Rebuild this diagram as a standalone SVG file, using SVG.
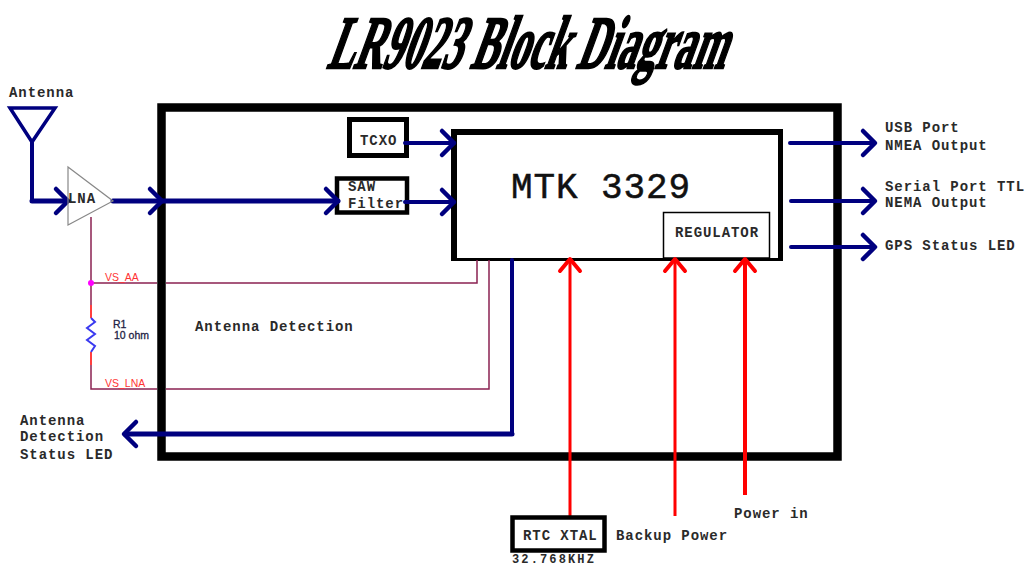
<svg xmlns="http://www.w3.org/2000/svg" width="1025" height="565" viewBox="0 0 1025 565">
<style>
.t{font-family:"Liberation Mono","DejaVu Sans Mono",monospace;font-weight:bold;font-size:14px;letter-spacing:.93px;fill:#2a2a2a}
.box{fill:#fff;stroke:#000}
.n{fill:none;stroke:#00007f;stroke-linecap:round;stroke-linejoin:round}
.r{fill:none;stroke:#f00}
.m{fill:none;stroke:#8b2252;stroke-width:1.5}
.s{font-family:"Liberation Sans",Arial,sans-serif;font-size:10.500px}
</style>
<defs>
<path id="ah" d="M-12,-12 L0,0 L-12,12" fill="none" stroke="#00007f" stroke-width="4.500" stroke-linecap="round" stroke-linejoin="round"/>
<path id="ar" d="M-12,-10 L0,0 L-12,10" fill="none" stroke="#f00" stroke-width="4" stroke-linecap="round" stroke-linejoin="round"/>
</defs>
<text id="title" transform="translate(326,68) skewX(-20) scale(.525,1)" font-family="Liberation Serif,serif" font-weight="bold" font-size="75" stroke="#000" stroke-width="2.400" fill="#000">LR9023 Block Diagram</text>
<g id="outer"><rect class="box" x="161.500" y="107.500" width="676" height="349" stroke-width="8.500"/></g>
<g id="mtk"><rect x="451" y="129" width="332" height="132" fill="#000"/><rect x="457" y="135" width="321" height="123" fill="#fff"/>
<text x="511" y="198" font-family="Liberation Mono,monospace" font-size="36" letter-spacing=".9" fill="#111" stroke="#111" stroke-width=".5">MTK 3329</text></g>
<g id="regulator"><rect class="box" x="663.500" y="212.500" width="106" height="45.500" stroke="#222" stroke-width="1.500"/><text class="t" x="675" y="237">REGULATOR</text></g>
<g id="tcxo"><rect class="box" x="349.500" y="119.500" width="57" height="36" stroke-width="5"/><text class="t" x="360" y="145">TCXO</text></g>
<g id="saw"><rect class="box" x="337" y="178.500" width="70" height="34" stroke-width="4.500"/><text class="t" x="348" y="191">SAW</text><text class="t" x="348" y="208">Filter</text></g>
<g id="connectors">
<path class="m" d="M91,217V305M91,283H157M166,283H477V260M91,365V389H157M166,389H489V260"/>
<path d="M91,305V318M91,352V365" stroke="#f00" stroke-width="1.500" fill="none"/>
<path d="M91,318L95,322L87,328L95,334L87,340L95,346L91,352" stroke="#3a3af0" stroke-width="2" fill="none"/>
<circle cx="91" cy="283" r="3" fill="#f0f"/>
<path class="n" stroke-width="4" d="M32,142V201H68"/>
<path class="n" stroke-width="5" d="M32,201H66M113,201H338"/>
<use href="#ah" x="68" y="201"/><use href="#ah" x="162" y="201"/><use href="#ah" x="338" y="201"/>
<path class="n" stroke-width="4" d="M405,143H454M405,202H454"/><use href="#ah" x="454" y="143"/><use href="#ah" x="454" y="202"/>
<path class="n" stroke-width="4" d="M790,143H874M791,201H874M791,247H874"/><use href="#ah" x="875" y="143"/><use href="#ah" x="875" y="201"/><use href="#ah" x="875" y="247"/>
<path class="n" stroke-width="4" d="M512,260V434"/><path class="n" stroke-width="5" d="M512,434H125"/><use href="#ah" transform="translate(124,434) rotate(180)"/>
<path class="r" stroke-width="3" d="M570,259V517M675,259V516"/><path class="r" stroke-width="4" d="M745,259V495"/>
<use href="#ar" transform="translate(570,259) rotate(-90)"/><use href="#ar" transform="translate(675,259) rotate(-90)"/><use href="#ar" transform="translate(745,259) rotate(-90)"/>
</g>
<g id="antenna"><path d="M10,108H55L32,142Z" fill="none" stroke="#00007f" stroke-width="3.500"/><text class="t" x="9" y="97">Antenna</text></g>
<g id="lna"><path d="M68,167L113,201L68,225Z" fill="none" stroke="#888" stroke-width="1.200"/><text class="t" x="68" y="203">LNA</text></g>
<g id="r1"><text class="s" x="113" y="328" fill="#224" stroke="#224" stroke-width=".3">R1</text><text class="s" x="114" y="339" fill="#224" stroke="#224" stroke-width=".3">10 ohm</text></g>
<g id="nets"><text class="s" x="105" y="281" fill="#f33">VS_AA</text><text class="s" x="105" y="387" fill="#f33">VS_LNA</text></g>
<g id="labels">
<text class="t" x="195" y="331">Antenna Detection</text>
<text class="t" x="885" y="132">USB Port</text><text class="t" x="885" y="150">NMEA Output</text>
<text class="t" x="885" y="191">Serial Port TTL</text><text class="t" x="885" y="207">NEMA Output</text>
<text class="t" x="885" y="250">GPS Status LED</text>
<text class="t" x="20" y="425">Antenna</text><text class="t" x="20" y="441">Detection</text><text class="t" x="20" y="459">Status LED</text>
<text class="t" x="734" y="518">Power in</text><text class="t" x="616" y="540">Backup Power</text>
</g>
<g id="rtc"><rect class="box" x="512.500" y="517.500" width="92" height="33" stroke-width="4.500"/><text class="t" x="523" y="540">RTC XTAL</text><text class="t" x="512" y="562.500" style="font-size:12px;letter-spacing:2.130px">32.768KHZ</text></g>
</svg>
